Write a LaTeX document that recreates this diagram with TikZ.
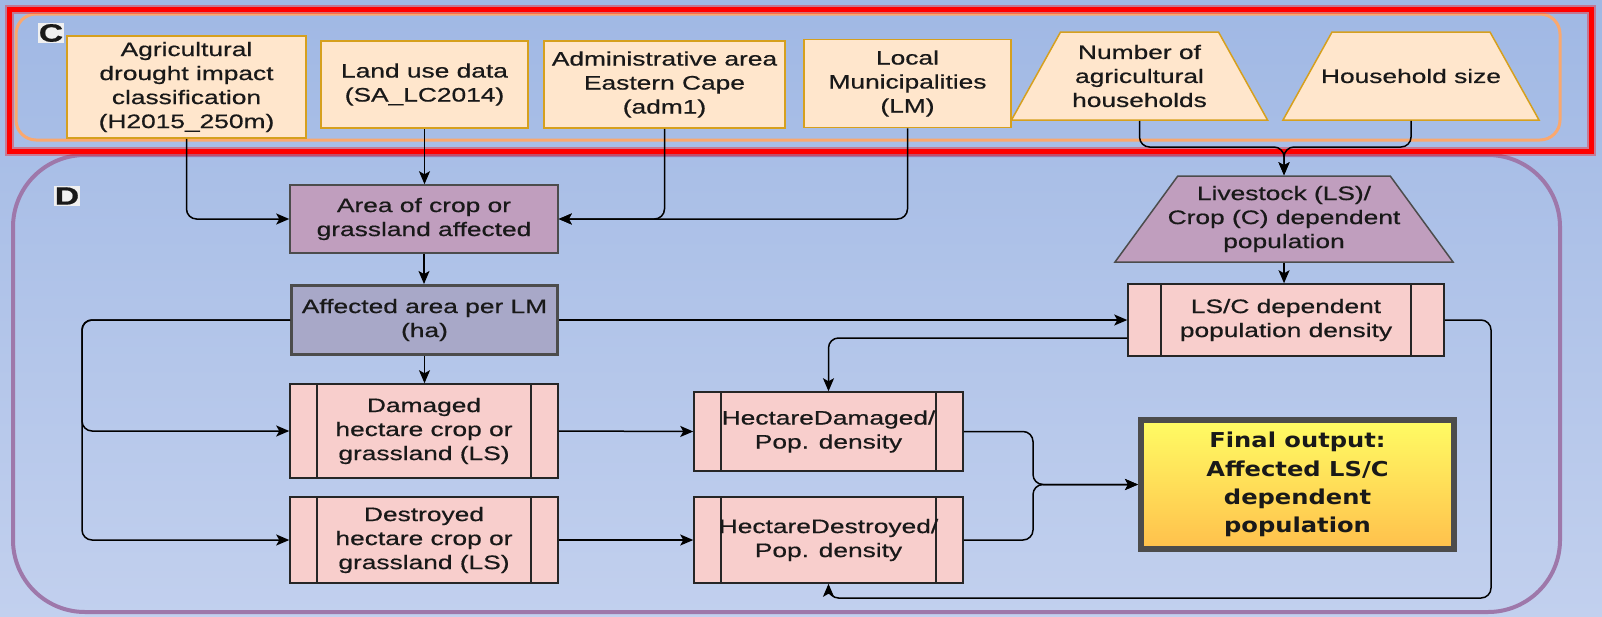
\documentclass[tikz,border=0pt]{standalone}
\usepackage{fontspec}
\setmainfont{Liberation Sans}[FakeStretch=1.35,FakeBold=0.6]
\newfontfamily\outfont{DejaVu Sans}[FakeStretch=1.18]
\usetikzlibrary{shapes.geometric,arrows.meta,backgrounds}
\definecolor{BgTop}{RGB}{160,184,228}
\definecolor{BgBot}{RGB}{194,208,238}
\definecolor{InFill}{RGB}{255,230,204}
\definecolor{InLine}{RGB}{214,160,30}
\definecolor{ProcFill}{RGB}{248,206,204}
\definecolor{Mauve}{RGB}{192,158,190}
\definecolor{Slate}{RGB}{168,168,200}
\definecolor{DPurple}{RGB}{158,120,170}
\definecolor{COrange}{RGB}{250,168,110}
\definecolor{OutTop}{RGB}{255,252,100}
\definecolor{OutBot}{RGB}{255,192,76}
\tikzset{>={Stealth[length=13pt,width=11pt,inset=3pt]}}

\begin{document}
\begin{tikzpicture}[x=1pt,y=-1pt,
    every node/.style={font=\fontsize{19.5}{24}\selectfont, align=center, inner sep=2pt, text=black!90},
    inbox/.style={rectangle, draw=InLine, fill=InFill, line width=1.5pt},
    intrap/.style={trapezium, trapezium angle=60.4, trapezium stretches body, draw=InLine, fill=InFill,
        line width=1.5pt, inner xsep=-12pt, minimum width=256pt, minimum height=88pt},
    mauvebox/.style={rectangle, draw=black!70, fill=Mauve, line width=1.5pt},
    procbox/.style={rectangle, draw=black!85, fill=ProcFill, line width=1.5pt,
        path picture={\draw[line width=1.5pt, black!85]
            ([xshift=#1]path picture bounding box.north west) -- ([xshift=#1]path picture bounding box.south west)
            ([xshift=-#1]path picture bounding box.north east) -- ([xshift=-#1]path picture bounding box.south east);}},
    procbox/.default=27pt,
    outbox/.style={rectangle, draw=black!70, line width=6pt, top color=OutTop, bottom color=OutBot,
        font=\outfont\bfseries\fontsize{20.5}{28.3}\selectfont},
    lbl/.style={font=\bfseries\fontsize{25}{25}\selectfont, fill=gray!12, inner sep=1pt},
    conn/.style={line width=1.5pt, rounded corners=10pt}]
    \useasboundingbox (0,0) rectangle (1602,616);

    % group C: input data
    \node[inbox, minimum width=239pt, minimum height=102pt] (agric) at (186.5,87) {Agricultural\\drought impact\\classification\\(H2015\_250m)};
    \node[inbox, minimum width=207pt, minimum height=87pt] (landuse) at (424.5,84.5) {Land use data\\(SA\_LC2014)};
    \node[inbox, minimum width=241pt, minimum height=87pt] (admin) at (664.5,84.5) {Administrative area\\Eastern Cape\\(adm1)};
    \node[inbox, minimum width=207pt, minimum height=88pt] (lm) at (907.5,83.5) {Local\\Municipalities\\(LM)};
    \node[intrap, inner ysep=12pt] (nhh) at (1139.5,76) {Number of\\agricultural\\households};
    \node[intrap, inner ysep=36pt] (hhsize) at (1411,76) {Household size};
    \node[lbl] (labc) at (51,33) {C};

    % group D: processing
    \node[lbl] (labd) at (67,196) {D};
    \node[mauvebox, minimum width=268pt, minimum height=68pt] (area) at (424,219) {Area of crop or\\grassland affected};
    \node[draw=black!70, fill=Slate, line width=3pt, minimum width=266pt, minimum height=69pt] (affected) at (424.5,320) {Affected area per LM\\(ha)};
    \node[procbox, minimum width=268pt, minimum height=94pt] (damaged) at (424,431) {Damaged\\hectare crop or\\grassland (LS)};
    \node[procbox, minimum width=268pt, minimum height=86pt] (destroyed) at (424,540) {Destroyed\\hectare crop or\\grassland (LS)};
    \node[procbox, minimum width=269pt, minimum height=79pt] (hdam) at (828.5,431.5) {HectareDamaged/\\Pop. density};
    \node[procbox, minimum width=269pt, minimum height=86pt] (hdes) at (828.5,540) {HectareDestroyed/\\Pop. density};
    \node[trapezium, trapezium angle=53.6, trapezium stretches body, draw=black!70, fill=Mauve, line width=1.5pt,
        inner xsep=-12pt, inner ysep=9.5pt, minimum width=338pt, minimum height=86pt] (lstock) at (1284,219) {Livestock (LS)/\\Crop (C) dependent\\population};
    \node[procbox=33pt, minimum width=316pt, minimum height=72pt] (lsc) at (1286,320) {LS/C dependent\\population density};
    \node[outbox, minimum width=313pt, minimum height=129pt] (final) at (1297.5,484.5) {Final output:\\Affected LS/C\\dependent\\population};

    \coordinate (hhjoin) at (1284,147);
    \coordinate (lbus) at (82,320);
    \coordinate (bjoin) at (1033,484.5);
    \coordinate (rloop) at (1491,598);

    \draw[conn,->] (agric.south) |- (area.west);
    \draw[conn,->] (landuse.south) -- (landuse.south |- area.north);
    \draw[conn,->] (admin.south) |- (area.east);
    \draw[conn,->] (lm.south) |- (area.east);
    \draw[conn,->] (nhh.south) |- (hhjoin) -- (lstock.north);
    \draw[conn,->] (hhsize.south) |- (hhjoin) -- (lstock.north);
    \draw[conn,->] (lstock.south) -- (lstock.south |- lsc.north);
    \draw[conn,->] (area.south) -- (area.south |- affected.north);
    \draw[conn,->] (affected.south) -- (affected.south |- damaged.north);
    \draw[conn,->] (affected.west) -- (lbus) |- (damaged.west);
    \draw[conn,->] (affected.west) -- (lbus) |- (destroyed.west);
    \draw[conn,->] (affected.east) -- (lsc.west);
    \draw[conn,->] ([yshift=-18pt]lsc.west) -| (hdam.north);
    \draw[conn,->] (damaged.east) -- (hdam.west);
    \draw[conn,->] (destroyed.east) -- (hdes.west);
    \draw[conn,->] (hdam.east) -| (bjoin) -- (final.west);
    \draw[conn,->] (hdes.east) -| (bjoin) -- (final.west);
    \draw[conn,->] (lsc.east) -| (rloop) -| (hdes.south);

    \begin{scope}[on background layer]
        \fill[top color=BgTop, bottom color=BgBot] (0,0) rectangle (1602,616);
        \draw[DPurple, line width=4pt, rounded corners=72pt] (13,155) rectangle (1560,612);
        \draw[COrange, line width=3pt, rounded corners=20pt] (16,14) rectangle (1560,140);
        \draw[red, line width=9pt, opacity=0.35] (9.5,9.5) rectangle (1591,151);
        \draw[red, line width=5pt] (9.5,9.5) rectangle (1591,151);
    \end{scope}
\end{tikzpicture}
\end{document}
